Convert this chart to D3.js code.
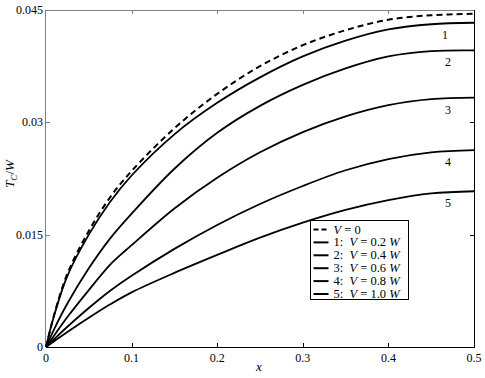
<!DOCTYPE html>
<html>
<head>
<meta charset="utf-8">
<script src="https://cdn.jsdelivr.net/npm/d3@7"></script>
<style>
body { margin: 0; background: #fff; }
svg { display: block; }
</style>
</head>
<body>
<svg id="chart" width="485" height="378"></svg>
<script>
// data
const X_VALUES = [0, 0.01, 0.025, 0.05, 0.075, 0.1, 0.15, 0.2, 0.25, 0.3, 0.35, 0.4, 0.45, 0.5];
const V0_VALUES = [0, 0.0045, 0.0098, 0.0155, 0.0200, 0.0235, 0.0292, 0.0338, 0.0375, 0.0403, 0.0423, 0.0437, 0.0443, 0.0445];
const V1_VALUES = [0, 0.0044, 0.0095, 0.0150, 0.0194, 0.0229, 0.0284, 0.0326, 0.0360, 0.0388, 0.0409, 0.0424, 0.0431, 0.0433];
const V2_VALUES = [0, 0.0025, 0.0058, 0.0105, 0.0145, 0.0178, 0.0238, 0.0286, 0.0322, 0.0350, 0.0372, 0.0388, 0.0395, 0.0396];
const V3_X = [0, 0.01, 0.025, 0.05, 0.075, 0.09, 0.095, 0.1, 0.15, 0.2, 0.25, 0.3, 0.35, 0.4, 0.45, 0.5];
const V3_VALUES = [0, 0.0016, 0.0040, 0.0076, 0.0110, 0.0126, 0.0131, 0.0136, 0.0185, 0.0226, 0.0260, 0.0287, 0.0308, 0.0323, 0.0331, 0.0333];
const V4_VALUES = [0, 0.0011, 0.0027, 0.0052, 0.0075, 0.0095, 0.0131, 0.0163, 0.0191, 0.0215, 0.0236, 0.0251, 0.0260, 0.0263];
const V5_VALUES = [0, 0.0008, 0.0020, 0.0039, 0.0057, 0.0073, 0.0099, 0.0123, 0.0146, 0.0166, 0.0183, 0.0196, 0.0205, 0.0208];
const CURVE_NAMES = ["1", "2", "3", "4", "5"];
const LEGEND_V = ["0.2", "0.4", "0.6", "0.8", "1.0"];
const X_TICKS = [0, 0.1, 0.2, 0.3, 0.4, 0.5];
const Y_TICKS = [0, 0.015, 0.03, 0.045];
const Y_TICK_LABELS = ["0", "0.015", "0.03", "0.045"];

const FONT = "'Liberation Serif', 'Times New Roman', serif";
const PLOT_LEFT = 46;
const PLOT_RIGHT = 474;
const PLOT_TOP = 10;
const PLOT_BOTTOM = 347;
const TICK_LEN = 4;

var svg = d3.select("#chart");

var xScale = d3.scaleLinear().domain([0, 0.5]).range([PLOT_LEFT, PLOT_RIGHT]);
var yScale = d3.scaleLinear().domain([0, 0.045]).range([PLOT_BOTTOM, PLOT_TOP]);

var series = [
    {xs: X_VALUES, ys: V1_VALUES},
    {xs: X_VALUES, ys: V2_VALUES},
    {xs: V3_X, ys: V3_VALUES},
    {xs: X_VALUES, ys: V4_VALUES},
    {xs: X_VALUES, ys: V5_VALUES}
];

var line = d3.line()
    .x(function(d) { return xScale(d[0]); })
    .y(function(d) { return yScale(d[1]); })
    .curve(d3.curveCatmullRom.alpha(0.5));

function toPoints(xs, ys) {
    return xs.map(function(x, i) { return [x, ys[i]]; });
}

function addText(parent, x, y, size) {
    return parent.append("text")
        .attr("x", x).attr("y", y)
        .attr("font-family", FONT)
        .attr("font-size", size)
        .attr("fill", "#000");
}

// frame
svg.append("line").attr("x1", PLOT_LEFT).attr("x2", PLOT_RIGHT)
    .attr("y1", PLOT_TOP + 0.5).attr("y2", PLOT_TOP + 0.5).attr("stroke", "#808080");
svg.append("line").attr("x1", PLOT_LEFT - 0.5).attr("x2", PLOT_LEFT - 0.5)
    .attr("y1", PLOT_TOP).attr("y2", PLOT_BOTTOM).attr("stroke", "#808080");
svg.append("line").attr("x1", PLOT_LEFT).attr("x2", PLOT_RIGHT)
    .attr("y1", PLOT_BOTTOM + 0.5).attr("y2", PLOT_BOTTOM + 0.5).attr("stroke", "#000");
svg.append("line").attr("x1", PLOT_RIGHT + 0.5).attr("x2", PLOT_RIGHT + 0.5)
    .attr("y1", PLOT_TOP).attr("y2", PLOT_BOTTOM + 1).attr("stroke", "#000");

// x ticks (inward, mirrored at top)
var xTickG = svg.append("g");
X_TICKS.forEach(function(t) {
    var x = Math.round(xScale(t)) + 0.5;
    if (t > 0 && t < 0.5) {
        xTickG.append("line").attr("x1", x).attr("x2", x)
            .attr("y1", PLOT_BOTTOM).attr("y2", PLOT_BOTTOM - TICK_LEN).attr("stroke", "#000");
        xTickG.append("line").attr("x1", x).attr("x2", x)
            .attr("y1", PLOT_TOP).attr("y2", PLOT_TOP + TICK_LEN).attr("stroke", "#808080");
    }
    addText(xTickG, xScale(t), PLOT_BOTTOM + 15, 12)
        .attr("text-anchor", "middle")
        .text(String(t));
});

// y ticks
var yTickG = svg.append("g");
Y_TICKS.forEach(function(t, i) {
    var y = Math.round(yScale(t)) + 0.5;
    if (t > 0 && t < 0.045) {
        yTickG.append("line").attr("x1", PLOT_LEFT).attr("x2", PLOT_LEFT + TICK_LEN)
            .attr("y1", y).attr("y2", y).attr("stroke", "#808080");
        yTickG.append("line").attr("x1", PLOT_RIGHT).attr("x2", PLOT_RIGHT - TICK_LEN)
            .attr("y1", y).attr("y2", y).attr("stroke", "#000");
    }
    addText(yTickG, PLOT_LEFT - 3, yScale(t) + 4, 12)
        .attr("text-anchor", "end")
        .text(Y_TICK_LABELS[i]);
});

// axis titles
addText(svg, xScale(0.25) - 1, 371, 13)
    .attr("text-anchor", "middle")
    .attr("font-style", "italic")
    .text("x");

var yTitle = addText(svg, 0, 0, 13)
    .attr("transform", "translate(14,174) rotate(-90)")
    .attr("text-anchor", "middle");
yTitle.append("tspan").attr("font-style", "italic").text("T");
yTitle.append("tspan").attr("font-style", "italic").attr("font-size", 9).attr("dy", 3).text("C");
yTitle.append("tspan").attr("dy", -3).text("/");
yTitle.append("tspan").attr("font-style", "italic").text("W");

// curves
var curveG = svg.append("g");
curveG.append("path")
    .attr("d", line(toPoints(X_VALUES, V0_VALUES)))
    .attr("fill", "none").attr("stroke", "#000")
    .attr("stroke-width", 2).attr("stroke-dasharray", "6,4");
series.forEach(function(s) {
    curveG.append("path")
        .attr("d", line(toPoints(s.xs, s.ys)))
        .attr("fill", "none").attr("stroke", "#000")
        .attr("stroke-width", 1.8);
});

// curve number labels
series.forEach(function(s, i) {
    var last = s.ys[s.ys.length - 1];
    addText(svg, i === 0 ? 445 : 448, yScale(last) + 16, 12)
        .attr("text-anchor", "middle")
        .text(CURVE_NAMES[i]);
});

// legend
const LEG_X = 310.5, LEG_Y = 220.5, LEG_W = 98, LEG_H = 79, LEG_ROW = 12.9;
var legend = svg.append("g");
legend.append("rect").attr("x", LEG_X).attr("y", LEG_Y)
    .attr("width", LEG_W).attr("height", LEG_H)
    .attr("fill", "#fff").attr("stroke", "#000");
for (var i = 0; i < 6; i++) {
    var ry = LEG_Y + 9 + i * LEG_ROW;
    var sample = legend.append("line")
        .attr("x1", LEG_X + 3).attr("x2", LEG_X + 18)
        .attr("y1", ry).attr("y2", ry)
        .attr("stroke", "#000").attr("stroke-width", 2);
    var txt = addText(legend, LEG_X + 23, ry + 4, 12.5)
        .attr("xml:space", "preserve")
        .style("white-space", "pre");
    if (i === 0) {
        sample.attr("stroke-dasharray", "5,3");
        txt.append("tspan").attr("font-style", "italic").text("V");
        txt.append("tspan").text(" = 0");
    } else {
        txt.append("tspan").text(CURVE_NAMES[i - 1] + ":  ");
        txt.append("tspan").attr("font-style", "italic").text("V");
        txt.append("tspan").text(" = " + LEGEND_V[i - 1] + " ");
        txt.append("tspan").attr("font-style", "italic").text("W");
    }
}
</script>
</body>
</html>
